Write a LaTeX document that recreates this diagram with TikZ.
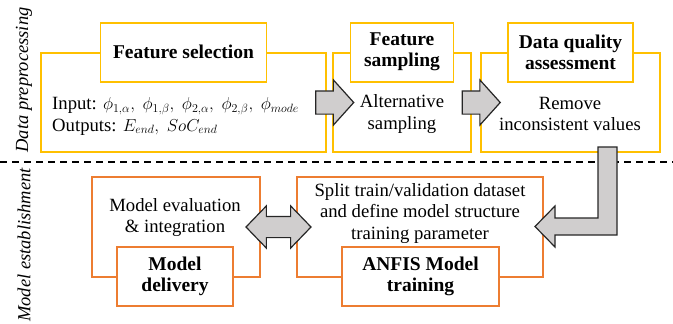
\documentclass[tikz,border=0pt]{standalone}
\usepackage{fontspec}
\setmainfont{Liberation Serif}
\usepackage{amsmath}
\usetikzlibrary{shapes.arrows,calc}
\definecolor{boxY}{HTML}{FFC000}
\definecolor{boxO}{HTML}{ED7D31}
\definecolor{arrG}{HTML}{D0CECE}
\definecolor{arrD}{HTML}{262626}

\begin{document}
\begin{tikzpicture}[x=1pt,y=-1pt,
  every node/.style={font=\fontsize{18.7}{21.5}\selectfont, inner sep=0pt},
  outerY/.style={draw=boxY, line width=1.6pt, fill=white},
  titleY/.style={draw=boxY, line width=1.6pt, fill=white, align=center, font=\fontsize{19.5}{21}\selectfont\bfseries},
  outerO/.style={draw=boxO, line width=1.6pt, fill=white},
  titleO/.style={draw=boxO, line width=1.6pt, fill=white, align=center, font=\fontsize{19.5}{21}\selectfont\bfseries},
  rarrow/.style={single arrow, draw=arrD, fill=arrG, line width=1.2pt,
    inner xsep=0pt, inner ysep=11pt,
    minimum height=38pt, single arrow head extend=11pt,
    single arrow tip angle=96},
  darrow/.style={double arrow, draw=arrD, fill=arrG, line width=1.2pt,
    inner xsep=0pt, inner ysep=10pt,
    minimum height=65pt, double arrow head extend=10.5pt,
    double arrow tip angle=92},
  side/.style={rotate=90, font=\fontsize{18.5}{21.5}\selectfont\itshape}]
\useasboundingbox (0,0) rectangle (673,324);
% side labels
\node[side] (dp) at (24,80) {Data preprocessing};
\node[side] (me) at (24,245) {Model establishment};
% boxes of the first stage
\node[outerY, minimum width=285pt, minimum height=99pt] (fs) at (183.5,102.5) {};
\node[titleY, minimum width=166pt, minimum height=59pt] (fsT) at (fs.north) {Feature selection};
\node[anchor=west, align=left] (fsB) at (52,116.5)
  {Input: $\phi_{1,\alpha},\;\phi_{1,\beta},\;\phi_{2,\alpha},\;\phi_{2,\beta},\;\phi_{mode}$\\
   Outputs: $E_{end},\;SoC_{end}$};
\node[outerY, minimum width=138pt, minimum height=99pt] (fa) at (402,102.5) {};
\node[titleY, minimum width=103pt, minimum height=59pt] (faT) at (fa.north) {Feature\\sampling};
\node[align=center] (faB) at (402,114) {Alternative\\sampling};
\node[outerY, minimum width=179pt, minimum height=99pt] (dq) at (570.5,102.5) {};
\node[titleY, minimum width=125pt, minimum height=59pt] (dqT) at (dq.north) {Data quality\\assessment};
\node[align=center] (dqB) at (570,114) {Remove\\inconsistent values};
% separation
\draw[line width=1.8pt, dash pattern=on 7pt off 5pt] (0,162) coordinate (sepL) -- (673,162) coordinate (sepR);
% boxes of the second stage
\node[outerO, minimum width=168pt, minimum height=100pt] (ev) at (176,227) {};
\node[titleO, minimum width=116pt, minimum height=59pt] (evT) at (175,276.5) {Model\\delivery};
\node[align=center] (evB) at (175,217.5) {Model evaluation\\\& integration};
\node[outerO, minimum width=246pt, minimum height=100pt] (tr) at (420,227) {};
\node[titleO, minimum width=157pt, minimum height=59pt] (trT) at (420.5,276.5) {ANFIS Model\\training};
\node[align=center] (trB) at (420,213.5) {Split train/validation dataset\\and define model structure\\training parameter};
% arrows
\node[rarrow] (a1) at ($(fs.east)!0.5!(fa.west)$) {};
\node[rarrow] (a2) at ($(fa.east)!0.5!(dq.west)$) {};
\node[darrow] (a3) at ($(ev.east)!0.5!(tr.west)$) {};
\draw[draw=arrD, fill=arrG, line width=1.2pt, line join=miter]
  (598,147) -- (617,147) -- (617,235) -- (555,235) -- (555,247)
  -- (535,226.5) -- (555,206) -- (555,218) -- (598,218) -- cycle;
\end{tikzpicture}
\end{document}
